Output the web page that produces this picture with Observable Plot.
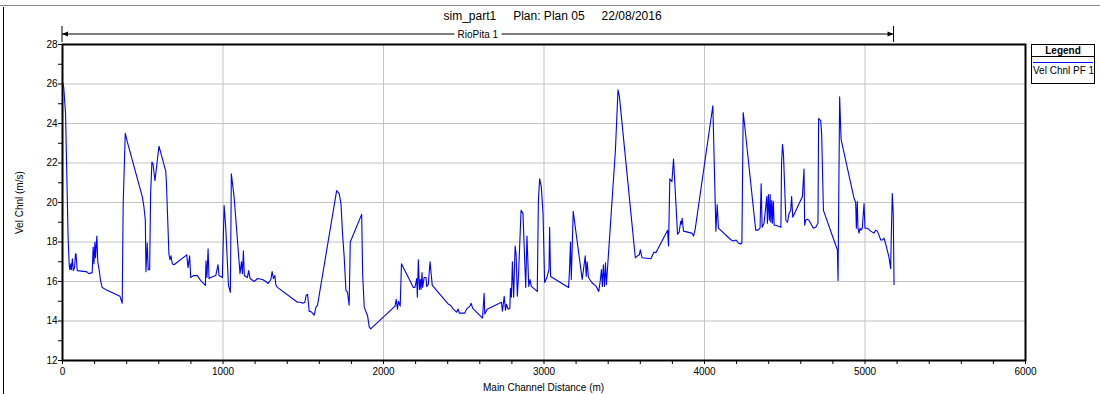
<!DOCTYPE html>
<html>
<head>
<meta charset="utf-8">
<script src="https://cdn.jsdelivr.net/npm/d3@7"></script>
<script src="https://cdn.jsdelivr.net/npm/@observablehq/plot@0.6"></script>
<style>
  html, body { margin: 0; padding: 0; background: #fff; }
  body { font-family: "Liberation Sans", Arial, sans-serif; color: #000; }
  #wrap { position: relative; width: 1100px; height: 394px; overflow: hidden; background: #fff; }
  #wrap > svg { position: absolute; left: 0; top: 0; }
  .abs { position: absolute; white-space: nowrap; }
  #topline { position: absolute; left: 0; top: 5px; width: 1100px; height: 0; border-top: 1px solid #8a8a8a; }
  #leftline { position: absolute; left: 3px; top: 7px; width: 0; height: 390px; border-left: 1px solid #000; }
  #title { top: 9px; font-size: 12px; line-height: 14px; }
  #ylab { font-size: 10px; line-height: 12px; transform-origin: 0 0; transform: rotate(-90deg); }
  #xlab { font-size: 10px; line-height: 11px; }
  #legend { left: 1031px; top: 44px; width: 62px; height: 38px; border: 1px solid #000; background: #fff; font-size: 10px; }
  #legend .hd { height: 11px; border-bottom: 1px solid #000; text-align: center; font-weight: bold; line-height: 11px; }
  #legend .sw { margin: 5px 1px 0 1px; height: 0; border-top: 1px solid #0000ff; }
  #legend .lb { margin-top: 2px; line-height: 11px; padding-left: 1px; }
</style>
</head>
<body>
<div id="wrap">
  <div id="topline"></div>
  <div id="leftline"></div>
</div>
<script>
// ---- Data ----
const titleParts = ["sim_part1", "Plan: Plan 05", "22/08/2016"];
const reachName = "RioPita 1";
const xLabel = "Main Channel Distance (m)";
const yLabel = "Vel Chnl (m/s)";
const seriesName = "Vel Chnl PF 1";
const legendTitle = "Legend";

const xTicks = [0, 1000, 2000, 3000, 4000, 5000, 6000];
const yTicks = [12, 14, 16, 18, 20, 22, 24, 26, 28];

const dist = [
  0, 8, 19, 35, 42, 46, 52, 55, 62, 67, 75, 81, 84, 92, 144, 150, 155, 164, 185, 191,
  196, 202, 206, 214, 220, 229, 237, 247, 268, 358, 372, 378, 391, 403, 497, 507, 516, 520, 528, 534,
  543, 549, 557, 564, 576, 601, 643, 647, 663, 669, 676, 684, 695, 774, 782, 792, 799, 815, 840, 861,
  890, 894, 900, 907, 913, 923, 955, 969, 975, 996, 1007, 1017, 1034, 1046, 1052, 1069, 1106, 1115, 1121, 1127,
  1133, 1152, 1160, 1169, 1194, 1215, 1246, 1267, 1281, 1298, 1306, 1314, 1323, 1329, 1339, 1464, 1485, 1496, 1510, 1518,
  1527, 1537, 1552, 1568, 1579, 1589, 1708, 1724, 1735, 1745, 1755, 1766, 1776, 1786, 1793, 1864, 1870, 1880, 1901, 1911,
  1920, 2072, 2079, 2087, 2093, 2104, 2112, 2186, 2196, 2207, 2211, 2217, 2224, 2230, 2234, 2240, 2244, 2253, 2265, 2269,
  2279, 2290, 2304, 2404, 2418, 2435, 2455, 2466, 2472, 2507, 2517, 2538, 2546, 2555, 2617, 2627, 2631, 2646, 2735, 2741,
  2752, 2760, 2766, 2776, 2787, 2791, 2797, 2803, 2811, 2820, 2826, 2834, 2842, 2857, 2869, 2886, 2894, 2905, 2913, 2921,
  2958, 2965, 2973, 2983, 2994, 3004, 3018, 3031, 3035, 3041, 3153, 3159, 3165, 3170, 3182, 3238, 3257, 3263, 3269, 3277,
  3298, 3325, 3341, 3350, 3358, 3364, 3370, 3377, 3383, 3389, 3445, 3461, 3470, 3569, 3583, 3594, 3600, 3611, 3666, 3677,
  3687, 3697, 3770, 3776, 3784, 3797, 3807, 3815, 3832, 3842, 3852, 3856, 3861, 3869, 3921, 3932, 3942, 4052, 4071, 4079,
  4087, 4166, 4180, 4197, 4211, 4226, 4233, 4241, 4247, 4319, 4333, 4346, 4353, 4359, 4371, 4388, 4392, 4398, 4404, 4409,
  4413, 4419, 4423, 4429, 4434, 4444, 4476, 4480, 4486, 4492, 4507, 4517, 4527, 4537, 4543, 4550, 4610, 4620, 4624, 4630,
  4641, 4651, 4678, 4693, 4707, 4711, 4724, 4730, 4741, 4817, 4828, 4832, 4842, 4851, 4932, 4942, 4946, 4952, 4956, 4963,
  4969, 4975, 4983, 4994, 5000, 5015, 5035, 5056, 5066, 5077, 5087, 5098, 5108, 5118, 5129, 5149, 5160, 5164, 5170, 5176,
  5181
];
const vel = [
  26.1, 25.8, 24.5, 18.2, 16.8, 16.6, 16.9, 16.6, 17.15, 16.55, 16.7, 17.4, 17.4, 16.55, 16.5, 16.5, 16.45, 16.4, 16.45, 17.75,
  16.9, 18.0, 17.2, 18.3, 17.0, 16.55, 16.05, 15.7, 15.6, 15.25, 14.9, 19.9, 23.5, 23.1, 20.3, 19.8, 19.1, 16.5, 17.95, 16.6,
  16.6, 20.4, 22.05, 21.95, 21.1, 22.85, 21.6, 21.1, 17.4, 17.1, 17.3, 16.9, 16.85, 17.35, 16.7, 17.3, 16.2, 16.3, 16.3, 16.05,
  15.8, 17.05, 16.2, 17.65, 16.15, 16.2, 16.3, 16.85, 16.3, 16.2, 19.85, 18.75, 15.8, 15.45, 21.45, 20.3, 16.4, 17.0, 16.4, 17.55,
  16.3, 16.2, 16.55, 16.15, 16.0, 16.15, 16.1, 16.0, 15.9, 16.1, 16.5, 16.15, 16.3, 15.85, 15.7, 14.95, 14.95, 14.9, 14.95, 15.3,
  15.35, 14.5, 14.45, 14.3, 14.7, 14.8, 20.6, 20.45, 19.95, 18.4, 17.25, 15.55, 15.45, 14.8, 18.0, 19.4, 16.4, 14.7, 14.25, 13.7,
  13.6, 14.75, 15.1, 14.6, 15.0, 14.75, 16.9, 15.7, 15.7, 16.15, 15.2, 17.1, 15.6, 16.1, 15.6, 16.45, 15.7, 16.2, 16.2, 15.75,
  15.85, 17.0, 15.8, 14.85, 14.8, 14.6, 14.45, 14.6, 14.4, 14.4, 14.6, 14.75, 14.9, 14.65, 14.15, 15.4, 14.35, 14.6, 14.95, 14.5,
  15.25, 14.55, 14.85, 14.6, 14.65, 15.65, 15.2, 17.0, 15.2, 17.8, 17.4, 15.25, 16.45, 19.6, 19.45, 15.7, 18.3, 15.75, 16.1, 15.75,
  15.5, 20.1, 21.2, 20.8, 19.45, 15.95, 16.2, 16.6, 18.75, 16.25, 15.7, 16.6, 18.0, 16.1, 19.55, 16.1, 17.3, 16.25, 17.0, 16.2,
  15.95, 15.75, 15.5, 16.0, 16.6, 15.75, 16.85, 15.75, 16.95, 15.85, 22.65, 25.7, 25.35, 17.2, 17.3, 17.35, 17.6, 17.2, 17.15, 17.35,
  17.5, 17.45, 18.6, 17.8, 21.2, 21.05, 22.2, 21.0, 18.4, 18.5, 19.05, 18.9, 19.2, 18.55, 18.45, 18.3, 18.65, 24.9, 18.55, 19.9,
  18.7, 18.1, 18.05, 18.1, 17.95, 17.9, 17.95, 24.55, 24.15, 18.6, 18.6, 18.7, 20.95, 18.75, 18.95, 20.3, 18.95, 20.4, 19.1, 20.4,
  19.0, 20.1, 18.95, 20.05, 18.85, 18.85, 18.75, 21.95, 22.95, 22.45, 19.1, 19.0, 19.45, 19.6, 20.3, 19.25, 20.3, 21.7, 18.85, 19.1,
  19.15, 19.1, 18.7, 18.75, 18.95, 24.25, 24.15, 23.45, 19.6, 17.85, 17.6, 16.05, 25.35, 23.2, 20.2, 20.0, 18.7, 20.05, 18.7, 18.45,
  18.7, 18.6, 18.7, 19.95, 18.7, 18.7, 18.55, 18.45, 18.6, 18.55, 18.35, 18.1, 18.1, 18.2, 17.9, 17.25, 16.65, 18.4, 20.45, 19.45,
  15.85
];

// ---- Chart ----
const rows = dist.map((d, i) => ({dist: d, vel: vel[i]}));
const xMinor = d3.range(xTicks[0], xTicks[xTicks.length - 1] + 1, 200);
const yMinor = d3.range(yTicks[0], yTicks[yTicks.length - 1] + 1, 1);
const font = "'Liberation Sans', Arial, sans-serif";

const plot = Plot.plot({
  width: 1100,
  height: 394,
  marginLeft: 62,
  marginRight: 75,
  marginTop: 44,
  marginBottom: 34,
  style: {fontFamily: font, fontSize: "10px", color: "#000", background: "transparent", overflow: "visible"},
  x: {domain: [xTicks[0], xTicks[xTicks.length - 1]]},
  y: {domain: [yTicks[0], yTicks[yTicks.length - 1]]},
  marks: [
    Plot.gridX(xTicks.slice(1, -1), {stroke: "#c4c4c4", strokeOpacity: 1, strokeWidth: 1}),
    Plot.gridY(yTicks.slice(1, -1), {stroke: "#c4c4c4", strokeOpacity: 1, strokeWidth: 1}),
    Plot.axisX(xMinor, {tickSize: 4, tickPadding: 3, label: null,
      tickFormat: d => (xTicks.includes(d) ? String(d) : "")}),
    Plot.axisY(yMinor, {tickSize: 4, tickPadding: 1, label: null,
      tickFormat: d => (yTicks.includes(d) ? String(d) : "")}),
    Plot.line(rows, {x: "dist", y: "vel", stroke: "#0000ff", strokeWidth: 1.1}),
    Plot.frame({stroke: "#000", strokeWidth: 2})
  ]
});

const wrap = document.getElementById("wrap");
wrap.appendChild(plot);

const sx = plot.scale("x");
const sy = plot.scale("y");
const [fx0, fx1] = sx.range;
const [fy0, fy1] = sy.range; // bottom, top

// Title
const title = document.createElement("div");
title.id = "title";
title.className = "abs";
title.innerHTML = titleParts.map(t => `<span>${t}</span>`).join('<span style="display:inline-block;width:17px"></span>');
wrap.appendChild(title);
title.style.left = ((fx0 + fx1) / 2 + 9 - title.offsetWidth / 2) + "px";

// Reach annotation (from first to last station)
const ann = d3.select(plot).append("g").attr("font-family", font).attr("font-size", 10);
const ax0 = sx.apply(d3.min(dist)), ax1 = sx.apply(d3.max(dist));
const ay = fy1 - 10;
ann.append("line").attr("x1", ax0).attr("x2", ax1).attr("y1", ay).attr("y2", ay).attr("stroke", "#000");
for (const [x, dir] of [[ax0, 1], [ax1, -1]]) {
  ann.append("line").attr("x1", x).attr("x2", x).attr("y1", ay - 8).attr("y2", ay + 8).attr("stroke", "#000");
  ann.append("path").attr("d", `M${x},${ay}L${x + dir * 6},${ay - 2.5}L${x + dir * 6},${ay + 2.5}Z`).attr("fill", "#000");
}
const tmx = (ax0 + ax1) / 2;
const t = ann.append("text").attr("x", tmx).attr("y", ay).attr("dy", "0.35em").attr("text-anchor", "middle").text(reachName);
const bb = t.node().getBBox();
ann.insert("rect", "text").attr("x", bb.x - 3).attr("y", bb.y).attr("width", bb.width + 6).attr("height", bb.height).attr("fill", "#fff");

// Axis labels
const xl = document.createElement("div");
xl.id = "xlab"; xl.className = "abs"; xl.textContent = xLabel;
wrap.appendChild(xl);
xl.style.left = ((fx0 + fx1) / 2 - xl.offsetWidth / 2) + "px";
xl.style.top = (fy0 + 22) + "px";

const yl = document.createElement("div");
yl.id = "ylab"; yl.className = "abs"; yl.textContent = yLabel;
wrap.appendChild(yl);
const ylw = yl.offsetWidth;
yl.style.left = "14px";
yl.style.top = ((fy0 + fy1) / 2 + ylw / 2) + "px";

// Legend
const lg = document.createElement("div");
lg.id = "legend"; lg.className = "abs";
lg.innerHTML = `<div class="hd">${legendTitle}</div><div class="sw"></div><div class="lb">${seriesName}</div>`;
wrap.appendChild(lg);
lg.style.left = (fx1 + 6) + "px";
lg.style.top = fy1 + "px";
</script>
</body>
</html>
